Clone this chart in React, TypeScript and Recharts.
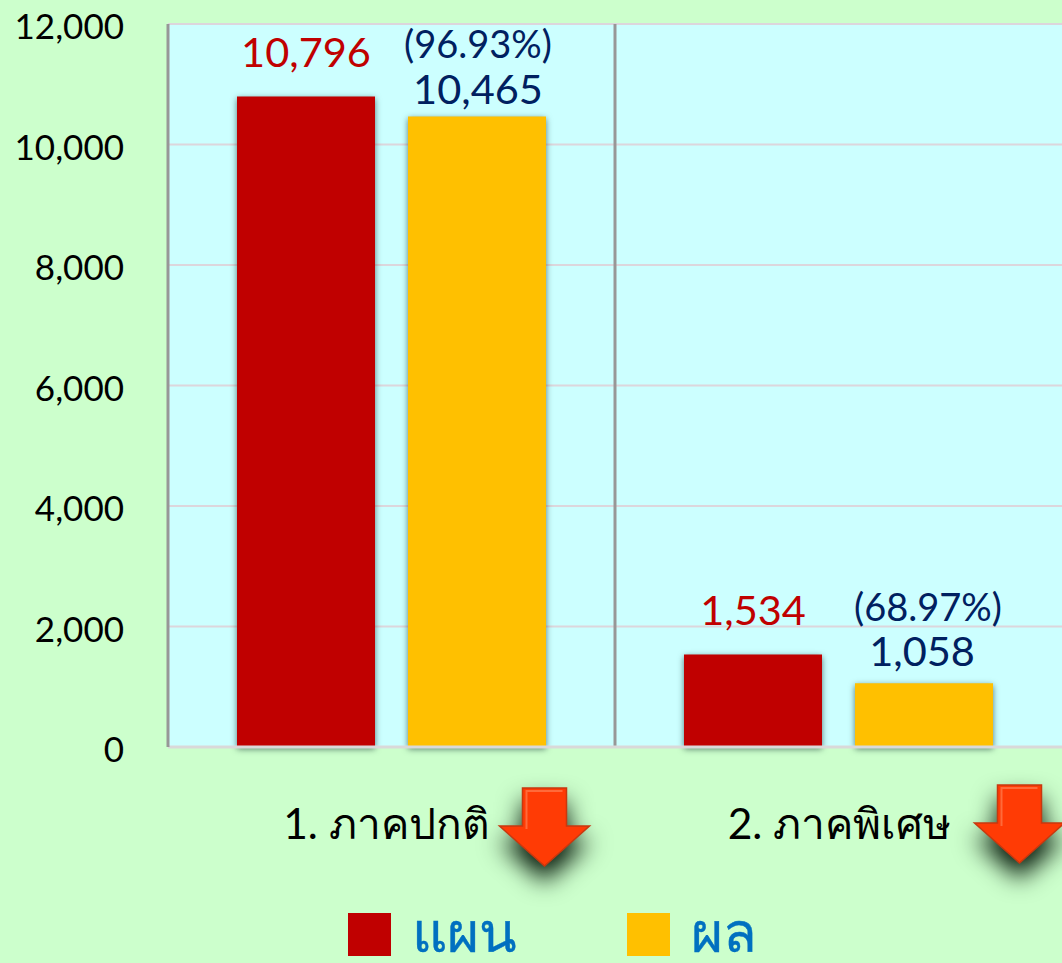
import { BarChart, Bar, XAxis, YAxis, CartesianGrid, LabelList, Legend } from "recharts"

const CATEGORIES = ["1. ภาคปกติ", "2. ภาคพิเศษ"]
const PLAN = [10796, 1534]
const RESULT = [10465, 1058]
const PERCENT = ["(96.93%)", "(68.97%)"]
const Y_TICKS = [0, 2000, 4000, 6000, 8000, 10000, 12000]

const FONT = "Lato, 'Noto Sans', 'DejaVu Sans', sans-serif"

// small per-category nudges, the labels are not evenly placed in the original
const TICK_DX = [-5, 1]
const ARROW_DX = [153, 181]
const ARROW_DY = [33, 30]
const RESULT_NUDGE = [{ dx: 1, dy: 12 }, { dx: -2, dy: 17 }]
const PERCENT_NUDGE = [{ dx: 1, dy: 58 }, { dx: 4, dy: 62 }]

const BAR_SHADOW = "drop-shadow(0 2px 3px rgba(20,50,50,0.65))"

const data = CATEGORIES.map((name, i) => ({ name, plan: PLAN[i], result: RESULT[i] }))

function fmt(v: number) {
  return v.toLocaleString("en-US")
}

function PlanLabel(props: any) {
  const { x, y, width, value } = props
  return (
    <text x={x + width / 2} y={y - 30} textAnchor="middle" fontSize={41.5} fill="#C00000" fontFamily={FONT}>
      {fmt(value)}
    </text>
  )
}

function ResultLabel(props: any) {
  const { x, y, width, value, index } = props
  const cx = x + width / 2
  return (
    <g>
      <text
        x={cx + PERCENT_NUDGE[index].dx}
        y={y - PERCENT_NUDGE[index].dy}
        textAnchor="middle"
        fontSize={38}
        fill="#002060"
        fontFamily={FONT}
      >
        {PERCENT[index]}
      </text>
      <text
        x={cx + RESULT_NUDGE[index].dx}
        y={y - RESULT_NUDGE[index].dy}
        textAnchor="middle"
        fontSize={41.5}
        fill="#002060"
        fontFamily={FONT}
      >
        {fmt(value)}
      </text>
    </g>
  )
}

function Arrow({ cx, top }: { cx: number; top: number }) {
  const points = `${cx - 22},${top} ${cx + 22},${top} ${cx + 22},${top + 38} ${cx + 45},${top + 38} ${cx},${top + 78} ${cx - 45},${top + 38} ${cx - 22},${top + 38}`
  return (
    <g>
      <polygon
        points={points}
        fill="#FF3B05"
        stroke="#C8380F"
        strokeWidth={1.5}
        style={{ filter: "drop-shadow(0 15px 12px rgba(5,25,10,1))" }}
      />
      <polyline
        points={`${cx - 18},${top + 41} ${cx - 18},${top + 3} ${cx + 18},${top + 3}`}
        fill="none"
        stroke="#FF6A3A"
        strokeWidth={2}
      />
    </g>
  )
}

function CategoryTick(props: any) {
  const { x, y, payload, index } = props
  return (
    <g>
      <text x={x + TICK_DX[index]} y={y + 84} textAnchor="middle" fontSize={42.5} fill="#000" fontFamily={FONT}>
        {payload.value}
      </text>
      <Arrow cx={x + ARROW_DX[index]} top={y + ARROW_DY[index]} />
    </g>
  )
}

function LegendContent({ payload }: any) {
  return (
    <div style={{ display: "flex", alignItems: "flex-start" }}>
      {(payload || []).map((item: any, i: number) => (
        <div key={item.value} style={{ display: "flex", alignItems: "flex-start", width: i === 0 ? 279 : 140 }}>
          <div style={{ width: 43, height: 43, background: item.color }} />
          <div
            style={{
              marginLeft: 21,
              marginTop: -9,
              fontSize: 55,
              lineHeight: "55px",
              WebkitTextStroke: "0.4px #0070C0",
              color: "#0070C0",
              fontFamily: FONT,
            }}
          >
            {item.value}
          </div>
        </div>
      ))}
    </div>
  )
}

export default function App() {
  return (
    <div
      style={{
        position: "absolute",
        left: 0,
        top: 0,
        width: 1062,
        height: 963,
        background: "#CCFFCC",
        overflow: "hidden",
      }}
    >
      <BarChart
        width={1062}
        height={963}
        data={data}
        margin={{ top: 24, right: 0, bottom: 0, left: 0 }}
        barSize={138}
        barGap={33}
      >
        <CartesianGrid
          fill="#CCFFFF"
          stroke="#DCD6DC"
          strokeWidth={2}
          syncWithTicks
          vertical={false}
        />
        <CartesianGrid
          horizontal={false}
          stroke="#979797"
          strokeWidth={3}
          verticalCoordinatesGenerator={({ offset }: any) => [offset.left + offset.width / 2]}
        />
        <XAxis
          dataKey="name"
          height={166}
          axisLine={{ stroke: "#D9D9D9", strokeWidth: 3 }}
          tickLine={false}
          tick={CategoryTick}
          interval={0}
        />
        <YAxis
          width={168}
          domain={[0, 12000]}
          ticks={Y_TICKS}
          interval={0}
          axisLine={{ stroke: "#979797", strokeWidth: 3 }}
          tickLine={false}
          tickMargin={38}
          tickFormatter={fmt}
          tick={{ fontSize: 35, fill: "#000", fontFamily: FONT, dy: 3 }}
        />
        <Legend
          content={LegendContent}
          itemSorter="dataKey"
          wrapperStyle={{ position: "absolute", left: 348, top: 913, width: 500, height: 50, bottom: "auto" }}
        />
        <Bar dataKey="plan" name="แผน" fill="#C00000" isAnimationActive={false} style={{ filter: BAR_SHADOW }}>
          <LabelList dataKey="plan" content={PlanLabel} />
        </Bar>
        <Bar dataKey="result" name="ผล" fill="#FFC000" isAnimationActive={false} style={{ filter: BAR_SHADOW }}>
          <LabelList dataKey="result" content={ResultLabel} />
        </Bar>
      </BarChart>
    </div>
  )
}
